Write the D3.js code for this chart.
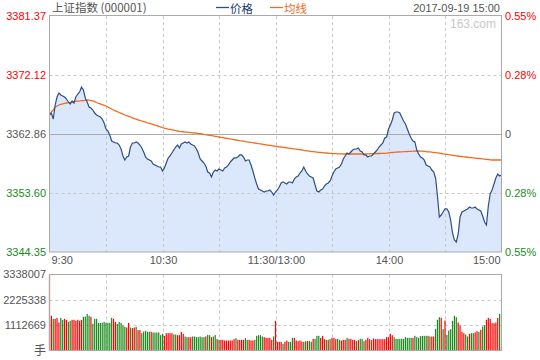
<!DOCTYPE html>
<html><head><meta charset="utf-8">
<script src="https://cdn.jsdelivr.net/npm/d3@7/dist/d3.min.js"></script>
<style>
html,body{margin:0;padding:0;background:#fff;}
svg{display:block;}
text{font-family:"Liberation Sans",Arial,sans-serif;font-size:11px;}
.cjk{font-family:"Noto Sans CJK SC","Liberation Sans",sans-serif;}
</style></head>
<body>
<svg id="c" width="540" height="360"></svg>
<script>
const title = "上证指数 (000001)";
const legendNames = ["价格", "均线"];
const dateLabel = "2017-09-19 15:00";
const timeLabels = [{i:0,t:"9:30"},{i:60,t:"10:30"},{i:120,t:"11:30/13:00"},{i:180,t:"14:00"},{i:240,t:"15:00"}];
const prevClose = 3362.86;
const priceTicks = [3381.37, 3372.12, 3362.86, 3353.60, 3344.35];
const pctTicks = ["0.55%", "0.28%", "0", "0.28%", "0.55%"];
const volTicks = [3338007, 2225338, 1112669];
const volUnit = "手";

const prices = [3365.84,3366.15,3365.21,3367.41,3368.66,3369.29,3368.98,3368.82,3368.66,3368.35,
3367.88,3367.57,3368.04,3367.72,3368.66,3369.13,3369.45,3370.23,3369.76,3368.51,
3367.88,3367.10,3366.94,3366.62,3366.15,3365.84,3365.68,3365.53,3365.21,3364.59,
3363.64,3363.33,3362.70,3361.76,3361.61,3361.45,3361.45,3361.13,3360.51,3359.41,
3358.78,3359.25,3359.41,3360.82,3361.45,3361.45,3361.61,3361.45,3361.13,3360.66,
3360.04,3359.25,3358.94,3358.78,3358.62,3358.15,3358.00,3357.84,3357.68,3357.68,
3357.06,3357.53,3358.31,3359.10,3359.41,3359.88,3360.35,3360.82,3361.13,3360.66,
3361.29,3361.45,3361.61,3361.45,3361.61,3361.29,3361.13,3360.98,3360.51,3359.88,
3358.94,3358.62,3358.31,3357.84,3356.90,3356.74,3356.12,3356.90,3357.21,3357.06,
3357.37,3357.21,3357.06,3357.53,3357.68,3358.00,3358.47,3358.78,3359.10,3359.10,
3359.25,3359.57,3359.57,3359.25,3358.62,3358.78,3358.78,3358.00,3357.06,3355.96,
3355.02,3354.23,3354.08,3353.92,3353.76,3353.92,3353.92,3354.08,3353.76,3353.29,
3353.76,3354.08,3354.55,3355.17,3355.33,3355.17,3355.02,3355.33,3355.33,3355.17,
3355.80,3356.12,3356.27,3356.74,3357.06,3357.68,3357.06,3356.59,3356.27,3356.12,
3355.96,3354.86,3353.92,3353.76,3354.08,3354.23,3354.70,3355.02,3355.17,3355.49,
3356.27,3356.90,3357.37,3357.53,3357.68,3358.15,3358.94,3359.41,3359.88,3359.72,
3360.04,3360.35,3360.51,3360.51,3360.66,3360.19,3360.04,3359.57,3359.57,3359.25,
3359.41,3359.41,3359.72,3360.04,3360.35,3360.82,3361.13,3361.45,3362.23,3362.39,
3363.64,3364.27,3365.06,3366.15,3366.31,3366.31,3366.15,3365.53,3364.90,3364.43,
3363.64,3362.86,3362.23,3361.76,3361.61,3360.35,3359.72,3359.25,3359.10,3358.78,
3358.00,3357.84,3357.68,3357.21,3356.90,3355.96,3353.13,3349.84,3350.15,3350.62,
3351.10,3351.10,3350.62,3349.37,3347.33,3346.23,3345.92,3347.17,3349.84,3350.62,
3350.78,3350.94,3351.10,3351.41,3351.25,3351.25,3351.41,3351.10,3350.94,3350.78,
3350.00,3349.06,3348.59,3351.57,3353.45,3354.08,3355.02,3355.96,3356.59,3356.27,
3356.43];

const avgPrices = [3365.84,3366.31,3366.62,3367.10,3367.25,3367.41,3367.49,3367.57,3367.68,3367.72,
3367.79,3367.83,3367.88,3367.93,3367.97,3368.01,3368.04,3368.08,3368.11,3368.15,
3368.19,3368.16,3368.11,3368.04,3367.93,3367.80,3367.68,3367.57,3367.46,3367.36,
3367.25,3367.10,3366.94,3366.78,3366.62,3366.50,3366.36,3366.23,3366.11,3365.97,
3365.84,3365.73,3365.64,3365.53,3365.40,3365.29,3365.20,3365.09,3364.99,3364.90,
3364.79,3364.71,3364.62,3364.54,3364.44,3364.37,3364.27,3364.18,3364.07,3363.96,
3363.86,3363.77,3363.71,3363.64,3363.58,3363.52,3363.46,3363.39,3363.33,3363.27,
3363.24,3363.21,3363.17,3363.14,3363.11,3363.08,3363.05,3363.02,3362.99,3362.95,
3362.92,3362.86,3362.81,3362.77,3362.70,3362.66,3362.61,3362.55,3362.50,3362.44,
3362.39,3362.34,3362.30,3362.23,3362.19,3362.14,3362.08,3362.03,3361.98,3361.92,
3361.87,3361.82,3361.78,3361.73,3361.68,3361.64,3361.59,3361.54,3361.50,3361.45,
3361.40,3361.35,3361.31,3361.26,3361.21,3361.17,3361.12,3361.07,3361.02,3360.98,
3360.93,3360.90,3360.85,3360.82,3360.77,3360.74,3360.70,3360.66,3360.62,3360.57,
3360.52,3360.48,3360.43,3360.40,3360.35,3360.30,3360.26,3360.21,3360.16,3360.11,
3360.08,3360.05,3360.02,3359.99,3359.96,3359.93,3359.90,3359.88,3359.85,3359.82,
3359.80,3359.79,3359.77,3359.75,3359.75,3359.74,3359.72,3359.72,3359.72,3359.72,
3359.72,3359.72,3359.72,3359.72,3359.72,3359.72,3359.72,3359.72,3359.74,3359.75,
3359.75,3359.77,3359.77,3359.79,3359.80,3359.80,3359.82,3359.83,3359.83,3359.86,
3359.90,3359.93,3359.96,3359.99,3360.02,3360.04,3360.05,3360.07,3360.08,3360.10,
3360.11,3360.13,3360.15,3360.16,3360.18,3360.19,3360.19,3360.18,3360.16,3360.13,
3360.10,3360.07,3360.04,3360.01,3359.99,3359.94,3359.90,3359.85,3359.80,3359.75,
3359.71,3359.66,3359.61,3359.57,3359.52,3359.49,3359.44,3359.41,3359.36,3359.33,
3359.28,3359.25,3359.21,3359.17,3359.14,3359.11,3359.08,3359.05,3359.02,3358.99,
3358.95,3358.92,3358.89,3358.86,3358.81,3358.78,3358.78,3358.78,3358.78,3358.78,
3358.78];

const volumes = [3338007,1523000,1391000,1391000,1435000,1230000,1435000,1347000,1391000,1347000,
1259000,1303000,1347000,1347000,1303000,1347000,1303000,1347000,1479000,1493000,
1610000,1523000,1479000,1171000,1391000,1391000,1215000,1215000,1215000,1259000,
1215000,1215000,1215000,1435000,1391000,1259000,1171000,1259000,1215000,1098000,
1039000,1010000,1215000,1010000,981000,1010000,1039000,893000,893000,761000,
834000,864000,820000,820000,820000,791000,791000,791000,791000,673000,
732000,644000,761000,761000,761000,761000,703000,703000,673000,673000,
820000,732000,615000,586000,586000,586000,615000,615000,586000,586000,
615000,586000,586000,615000,688000,673000,586000,615000,673000,498000,
468000,468000,468000,439000,439000,439000,439000,439000,498000,542000,
468000,468000,468000,468000,542000,468000,468000,439000,439000,468000,
644000,673000,673000,615000,586000,556000,556000,556000,468000,615000,
1303000,381000,381000,381000,293000,381000,439000,381000,381000,556000,
556000,439000,410000,439000,395000,381000,410000,410000,425000,381000,
512000,512000,644000,644000,556000,644000,498000,468000,468000,498000,
556000,556000,498000,512000,468000,439000,468000,468000,556000,512000,
512000,468000,468000,410000,454000,512000,512000,410000,468000,556000,
498000,454000,527000,498000,498000,498000,498000,498000,498000,586000,
586000,732000,673000,586000,512000,512000,512000,512000,512000,586000,
556000,556000,556000,556000,644000,586000,556000,630000,644000,644000,
644000,644000,615000,615000,615000,952000,1347000,1464000,1435000,937000,
1318000,688000,878000,937000,1303000,1523000,1464000,1230000,1098000,820000,
761000,703000,615000,732000,761000,761000,791000,849000,820000,908000,
1054000,1113000,1347000,1435000,1391000,1200000,1200000,1230000,1435000,1610000,
146000];

// 1 = up (red), 0 = down (green)
const volUp = [1,1,0,1,1,1,0,0,1,1, 0,0,1,1,1,1,1,1,0,0,
0,0,1,0,0,0,0,0,0,0, 0,0,0,0,1,1,0,0,0,0,
0,1,1,0,1,1,0,1,1,0, 0,0,0,0,1,0,0,0,0,0,
0,1,1,1,1,1,0,0,1,1, 1,1,0,0,1,1,0,0,0,0,
0,0,0,1,0,0,1,0,0,1, 0,1,1,1,1,1,1,1,1,0,
1,1,1,1,0,0,1,1,1,0, 0,0,0,0,1,1,1,1,1,0,
1,1,1,1,0,1,1,0,0,0, 1,1,1,1,1,0,0,1,0,0,
1,0,0,0,1,1,1,0,1,0, 1,1,1,0,0,1,1,1,0,1,
1,1,1,0,1,0,0,0,1,1, 1,0,1,1,1,1,1,1,1,1,
1,1,1,0,0,0,0,0,0,0, 0,0,0,1,0,0,0,0,0,0,
0,1,0,1,1,0,0,0,1,0, 1,0,0,0,0,0,0,1,1,1,
1,0,0,1,0,0,1,1,0,1, 0,0,1,1,1,1,1,1,1,0,
1];

const svg = d3.select("#c");
const L = 49.5, R = 501.5, T = 16, B = 252;
const VT = 274.5, VB = 350.5;
const x = d3.scaleLinear().domain([0, 240]).range([L, R]);
const y = d3.scaleLinear().domain([priceTicks[4], priceTicks[0]]).range([B, T]);
const yv = d3.scaleLinear().domain([0, volTicks[0]]).range([VB, VT]);

const grey = "#555", red = "#ff0000", green = "#1a8a1a", gridC = "#c8c8c8", borderC = "#aaaaaa";
const priceC = "#2d4f84", avgC = "#f26a1b";

// area fill
svg.append("path").datum(prices)
  .attr("d", d3.area().x((d,i)=>x(i)).y0(B).y1(d=>y(d)))
  .attr("fill", "#dbe7fa");

// grid main
const vGrid = [30,60,90,120,150,180,210];
vGrid.forEach(i=>{
  svg.append("line").attr("x1",Math.round(x(i))+0.5).attr("x2",Math.round(x(i))+0.5).attr("y1",T).attr("y2",B)
    .attr("stroke",gridC).attr("stroke-dasharray","3,3");
  svg.append("line").attr("x1",Math.round(x(i))+0.5).attr("x2",Math.round(x(i))+0.5).attr("y1",VT).attr("y2",VB)
    .attr("stroke",gridC).attr("stroke-dasharray","3,3");
});
[priceTicks[1], priceTicks[3]].forEach(p=>{
  svg.append("line").attr("x1",L).attr("x2",R).attr("y1",Math.round(y(p))+0.5).attr("y2",Math.round(y(p))+0.5)
    .attr("stroke",gridC).attr("stroke-dasharray","3,3");
});
[volTicks[1], volTicks[2]].forEach(v=>{
  svg.append("line").attr("x1",L).attr("x2",R).attr("y1",Math.round(yv(v))+0.5).attr("y2",Math.round(yv(v))+0.5)
    .attr("stroke",gridC).attr("stroke-dasharray","3,3");
});
svg.append("line").attr("x1",L).attr("x2",R).attr("y1",Math.round(y(prevClose))+0.5).attr("y2",Math.round(y(prevClose))+0.5)
  .attr("stroke","#aaaaaa");

// avg line
svg.append("path").datum(avgPrices)
  .attr("d", d3.line().x((d,i)=>x(i)).y(d=>y(d)))
  .attr("fill","none").attr("stroke",avgC).attr("stroke-width",1.3);
// price line
svg.append("path").datum(prices)
  .attr("d", d3.line().x((d,i)=>x(i)).y(d=>y(d)))
  .attr("fill","none").attr("stroke",priceC).attr("stroke-width",1.2);

// volume bars
svg.append("g").selectAll("rect").data(volumes).join("rect")
  .attr("x",(d,i)=>x(i)-0.6).attr("width",1.2)
  .attr("y",d=>yv(d)).attr("height",d=>VB-yv(d))
  .attr("fill",(d,i)=>volUp[i]?red:green);

// borders
svg.append("rect").attr("x",L).attr("y",T-0.5).attr("width",R-L).attr("height",B-T+0.5)
  .attr("fill","none").attr("stroke",borderC);
svg.append("rect").attr("x",L).attr("y",VT).attr("width",R-L).attr("height",VB-VT)
  .attr("fill","none").attr("stroke",borderC);

// left price labels
const pColors = [red, red, grey, green, green];
priceTicks.forEach((p,k)=>{
  svg.append("text").attr("x",46).attr("y",y(p)).attr("dy","0.35em").attr("text-anchor","end")
    .attr("fill",pColors[k]).text(p.toFixed(2));
  svg.append("text").attr("x",505).attr("y",y(p)).attr("dy","0.35em").attr("text-anchor","start")
    .attr("fill",pColors[k]).text(pctTicks[k]);
});
// volume labels
volTicks.forEach(v=>{
  svg.append("text").attr("x",46).attr("y",yv(v)).attr("dy","0.35em").attr("text-anchor","end")
    .attr("fill",grey).text(v);
});
svg.append("text").attr("class","cjk").attr("x",46).attr("y",VB).attr("dy","0.38em").attr("text-anchor","end")
  .attr("fill",grey).style("font-size","12px").text(volUnit);

// time labels
timeLabels.forEach((t,k)=>{
  const anchor = k===0 ? "start" : (k===timeLabels.length-1 ? "end" : "middle");
  const xx = k===0 ? x(t.i)+2 : (k===timeLabels.length-1 ? x(t.i)-1 : x(t.i)+1);
  svg.append("text").attr("x",xx).attr("y",260).attr("dy","0.35em").attr("text-anchor",anchor)
    .attr("fill",grey).text(t.t);
});

// header
svg.append("text").attr("class","cjk").attr("x",52).attr("y",8).attr("dy","0.35em")
  .attr("fill",grey).style("font-size","11.5px").text(title);
// legend: swatch line + label
[[216, priceC, legendNames[0], "#1e3d6e"], [270, avgC, legendNames[1], avgC]].forEach(([lx, c, name, tc])=>{
  svg.append("line").attr("x1",lx).attr("x2",lx+13).attr("y1",7.5).attr("y2",7.5)
    .attr("stroke",c).attr("stroke-width",1.3);
  svg.append("text").attr("class","cjk").attr("x",lx+14).attr("y",8.5).attr("dy","0.35em")
    .attr("fill",tc).style("font-size","11.5px").text(name);
});
svg.append("text").attr("x",500).attr("y",8).attr("dy","0.35em").attr("text-anchor","end")
  .attr("fill",grey).text(dateLabel);
svg.append("text").attr("x",496).attr("y",23.5).attr("dy","0.35em").attr("text-anchor","end")
  .attr("fill","#c8c8c8").style("font-size","12px").text("163.com");
</script>
</body></html>
